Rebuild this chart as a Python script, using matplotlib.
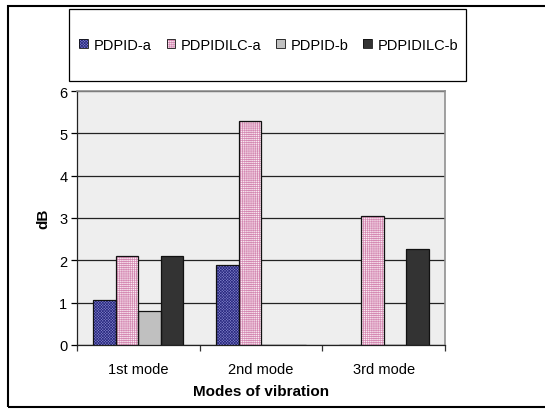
import numpy as np
import matplotlib
matplotlib.use("Agg")
import matplotlib.pyplot as plt
from matplotlib.patches import Rectangle, Patch

plt.rcParams['font.family'] = ['Liberation Sans', 'DejaVu Sans']
plt.rcParams['hatch.linewidth'] = 0.5

# data
modes = ["1st mode", "2nd mode", "3rd mode"]
series = ["PDPID-a", "PDPIDILC-a", "PDPID-b", "PDPIDILC-b"]
pdpid_a = [1.07, 1.88, 0.0]
pdpidilc_a = [2.10, 5.28, 3.05]
pdpid_b = [0.80, 0.0, 0.0]
pdpidilc_b = [2.10, 0.0, 2.27]
values = [pdpid_a, pdpidilc_a, pdpid_b, pdpidilc_b]

# fill colour, hatch, hatch colour per series
styles = [
    ("#8484cc", "x" * 12, "#2a2a80"),
    ("#fbeef4", "+" * 8, "#d488b2"),
    ("#c0c0c0", None, "#c0c0c0"),
    ("#333333", None, "#333333"),
]

fig = plt.figure(figsize=(5.45, 4.10), dpi=100)
ax = fig.add_axes([77 / 545, 64 / 410, 368 / 545, 254 / 410])
ax.set_facecolor("#eeeeee")

x = np.arange(len(modes))
w = 0.183
for i, (vals, (fc, hatch, hc)) in enumerate(zip(values, styles)):
    pos = x + (i - 1.5) * w
    ax.bar(pos, vals, w, color=fc, hatch=hatch, edgecolor=hc, linewidth=0, zorder=3)
    ax.bar(pos, vals, w, fill=False, edgecolor="#111111", linewidth=0.9, zorder=4)

ax.set_xlim(-0.5, 2.5)
ax.set_ylim(0, 6)
ax.set_yticks(range(7))
ax.yaxis.grid(True, color="#222222", linewidth=0.9, zorder=1)
ax.set_xticks(x)
ax.set_xticklabels(modes, fontsize=10.5)
ax.set_xticks([-0.5, 0.5, 1.5, 2.5], minor=True)
ax.tick_params(axis="x", which="major", length=0, pad=12)
ax.tick_params(axis="x", which="minor", length=4, width=0.9, color="#333333")
ax.tick_params(axis="y", length=4, width=0.9, labelsize=10.5, pad=3)

for side in ["top", "right"]:
    ax.spines[side].set_color("#909090")
    ax.spines[side].set_linewidth(1.2)
for side in ["left", "bottom"]:
    ax.spines[side].set_color("#222222")
    ax.spines[side].set_linewidth(0.9)

ax.set_ylabel("dB", fontsize=11, fontweight="bold", labelpad=6)
ax.set_xlabel("Modes of vibration", fontsize=11, fontweight="bold", labelpad=6)

# outer chart frame
fig.patches.append(Rectangle((8 / 545, 2 / 410), 545, 401 / 410, transform=fig.transFigure,
                             fill=False, edgecolor="black", linewidth=1.5))
# legend box
fig.patches.append(Rectangle((69 / 545, 328 / 410), 397 / 545, 72 / 410, transform=fig.transFigure,
                             fill=False, edgecolor="black", linewidth=0.9))

# each legend key: hatched fill with a thin dark outline on top
handles = [(Patch(facecolor=fc, hatch=h, edgecolor=hc, linewidth=0),
            Patch(fill=False, edgecolor="#111111", linewidth=0.6)) for fc, h, hc in styles]
fig.legend(handles, series, loc="center", bbox_to_anchor=(269 / 545, 364 / 410), ncol=4,
           frameon=False, fontsize=10.5, handlelength=0.6, handleheight=0.6,
           handletextpad=0.4, columnspacing=1.0)

fig.savefig("out.png", dpi=100)
